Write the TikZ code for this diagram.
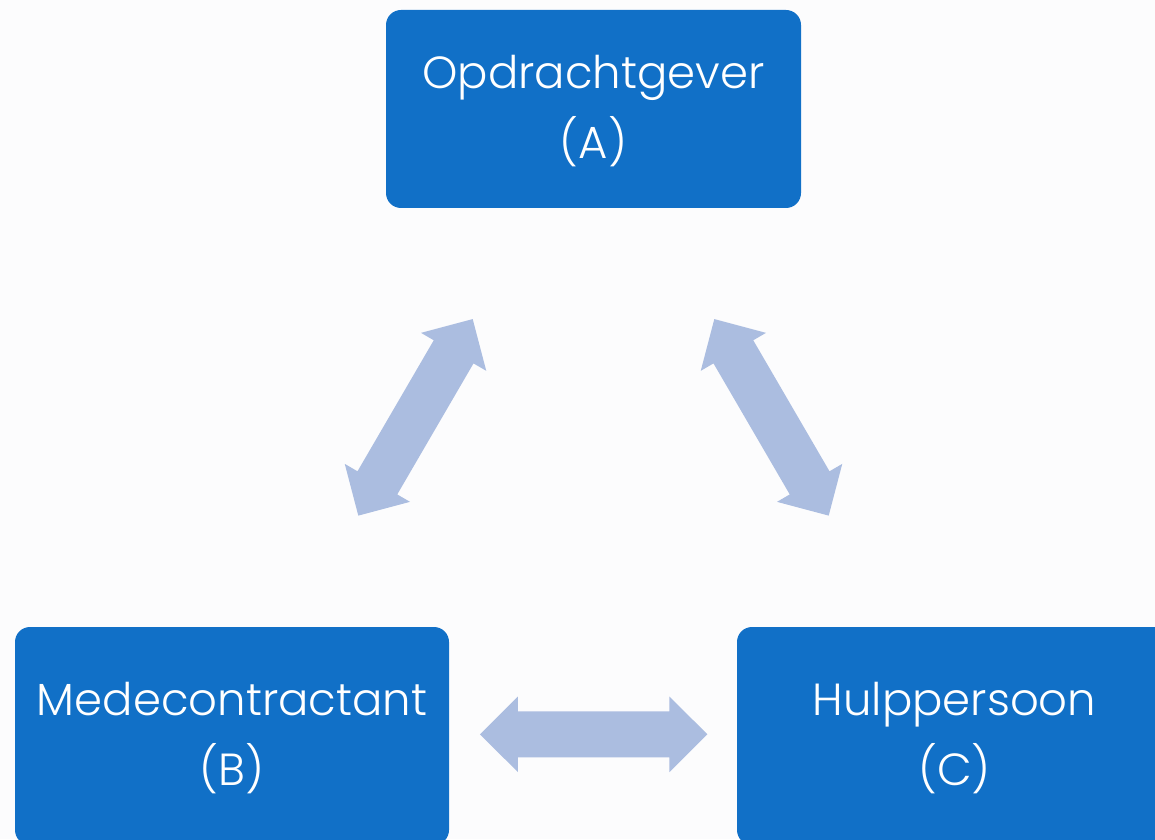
\documentclass[tikz,border=0pt]{standalone}
\usepackage{fontspec}
\setmainfont{Poppins}[UprightFont={* Light}]
\definecolor{boxblue}{HTML}{1170C7}
\definecolor{arrowblue}{HTML}{ABBDE0}
\definecolor{bg}{HTML}{FCFCFD}
\newcommand\dblarrow[3]{%
  \begin{scope}[shift={(#1,#2)},rotate=#3]
    \fill[arrowblue] (-113.7,0) -- (-75.8,37.75) -- (-75.8,23) -- (75.8,23) -- (75.8,37.75)
      -- (113.7,0) -- (75.8,-37.75) -- (75.8,-23) -- (-75.8,-23) -- (-75.8,-37.75) -- cycle;
  \end{scope}}
\begin{document}
\begin{tikzpicture}[x=1pt,y=1pt,
  box/.style={draw=none, fill=boxblue, rounded corners=15pt, text=white, align=center,
    font=\fontsize{45}{70}\selectfont, inner sep=0pt, text depth=4pt}]
\useasboundingbox (0,0) rectangle (1155,839);
\fill[bg] (0,0) rectangle (1155,839);
\clip (0,0) rectangle (1155,839);
\node[box, minimum width=415pt, minimum height=198pt] (A) at (593.5,730) {Opdrachtgever\\(A)};
\node[box, minimum width=434pt, minimum height=218pt] (B) at (232,103) {Medecontractant\\(B)};
\node[box, minimum width=435pt, minimum height=218pt] (C) at (954.5,103) {Hulppersoon\\(C)};
\dblarrow{415.5}{421.65}{59.8}
\dblarrow{771.5}{421.65}{120.2}
\dblarrow{593.65}{104.7}{0}
\end{tikzpicture}
\end{document}
